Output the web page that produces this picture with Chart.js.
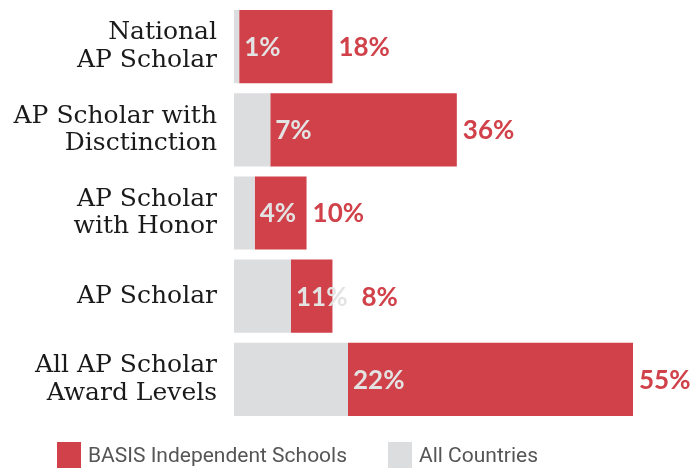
<!DOCTYPE html>
<html>
<head>
<meta charset="utf-8">
<script src="https://cdn.jsdelivr.net/npm/chart.js@4.4.1/dist/chart.umd.min.js"></script>
<style>
  html, body { margin: 0; padding: 0; background: #ffffff; }
  #wrap { position: relative; width: 690px; height: 468px; }
</style>
</head>
<body>
<div id="wrap"><canvas id="c" width="690" height="468"></canvas></div>
<script>
const categories = [
  ["National", "AP Scholar"],
  ["AP Scholar with", "Disctinction"],
  ["AP Scholar", "with Honor"],
  ["AP Scholar"],
  ["All AP Scholar", "Award Levels"]
];
const allCountries = [1, 7, 4, 11, 22];
const basisSchools = [18, 36, 10, 8, 55];
const seriesNames = ["BASIS Independent Schools", "All Countries"];

const RED = '#d0414a';
const GREY = '#dcdddf';

const valueLabels = {
  id: 'valueLabels',
  afterDatasetsDraw(chart) {
    const ctx = chart.ctx;
    ctx.save();
    ctx.textBaseline = 'middle';
    ctx.textAlign = 'left';
    ctx.font = 'bold 26px Lato';
    const m0 = chart.getDatasetMeta(0);
    const m1 = chart.getDatasetMeta(1);
    const greyEnds = [];
    ctx.fillStyle = '#e3e3e3';
    m0.data.forEach((el, i) => {
      const t = chart.data.datasets[0].data[i] + '%';
      const x = el.x + 5;
      ctx.fillText(t, x, el.y + 1);
      greyEnds[i] = x + ctx.measureText(t).width;
    });
    ctx.fillStyle = RED;
    m1.data.forEach((el, i) => {
      const t = chart.data.datasets[1].data[i] + '%';
      const x = Math.max(el.x + 6, greyEnds[i] + 14);
      ctx.fillText(t, x, el.y + 1);
    });
    ctx.restore();
  }
};

const customLegend = {
  id: 'customLegend',
  afterDraw(chart) {
    const ctx = chart.ctx;
    const items = [
      { text: seriesNames[0], color: RED, x: 57 },
      { text: seriesNames[1], color: GREY, x: 388 }
    ];
    ctx.save();
    ctx.font = '21px Roboto';
    ctx.textBaseline = 'middle';
    ctx.textAlign = 'left';
    items.forEach(it => {
      ctx.fillStyle = it.color;
      ctx.fillRect(it.x, 442, 24, 30);
      ctx.fillStyle = '#555555';
      ctx.fillText(it.text, it.x + 31, 457);
    });
    ctx.restore();
  }
};

new Chart(document.getElementById('c'), {
  type: 'bar',
  data: {
    labels: categories,
    datasets: [
      { label: seriesNames[1], data: allCountries, backgroundColor: GREY, borderWidth: 0,
        categoryPercentage: 0.88, barPercentage: 1.0 },
      { label: seriesNames[0], data: basisSchools, backgroundColor: RED, borderWidth: 0,
        categoryPercentage: 0.88, barPercentage: 1.0 }
    ]
  },
  options: {
    indexAxis: 'y',
    responsive: false,
    animation: false,
    layout: { padding: { top: 5, bottom: 47, right: 0, left: 0 } },
    plugins: {
      legend: { display: false },
      tooltip: { enabled: false }
    },
    scales: {
      x: { stacked: true, min: 0, max: 88, display: false },
      y: {
        stacked: true,
        grid: { display: false, drawTicks: false },
        border: { display: false },
        ticks: {
          color: '#1a1a1a',
          font: { family: 'DejaVu Serif', size: 25, lineHeight: 1.1 },
          padding: 17
        },
        afterFit(scale) {
          scale.width = 234;
          scale.paddingTop = 0;
          scale.paddingBottom = 0;
        }
      }
    }
  },
  plugins: [valueLabels, customLegend]
});
</script>
</body>
</html>
